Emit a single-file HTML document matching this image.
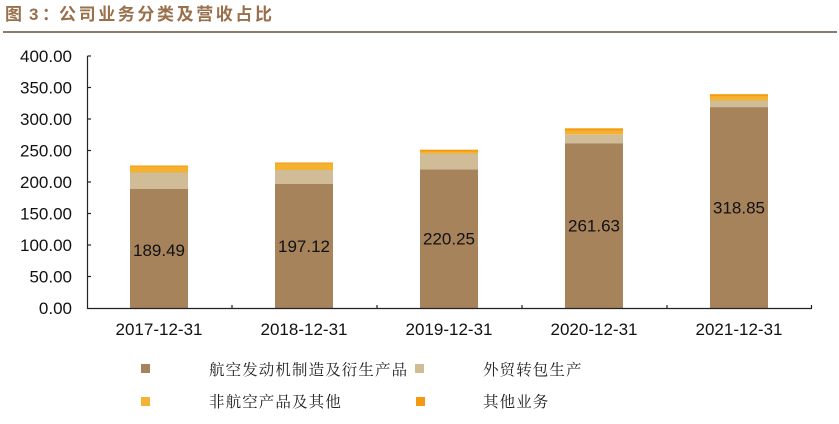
<!DOCTYPE html>
<html><head><meta charset="utf-8">
<style>
html,body{margin:0;padding:0;background:#fff;}
body{width:839px;height:424px;overflow:hidden;position:relative;}
svg{position:absolute;left:0;top:0;}
</style></head>
<body>
<svg width="839" height="424" viewBox="0 0 839 424" xmlns="http://www.w3.org/2000/svg">
  <!-- title -->
  <g font-family="'Liberation Sans','Noto Sans CJK SC',sans-serif" font-weight="bold" font-size="17" fill="#9A6F4B">
    <text x="5" y="20">图</text>
    <text x="29" y="20">3</text>
    <text x="42" y="20">：</text>
    <text x="59" y="20" letter-spacing="2.6">公司业务分类及营收占比</text>
  </g>
  <rect x="3" y="31" width="834" height="2" fill="#8E7A68"/>

  <!-- y axis labels -->
  <g font-family="'Liberation Sans',Arial,sans-serif" font-size="17" fill="#111" text-anchor="end">
    <text x="72" y="62">400.00</text>
    <text x="72" y="93.5">350.00</text>
    <text x="72" y="125">300.00</text>
    <text x="72" y="156.5">250.00</text>
    <text x="72" y="188">200.00</text>
    <text x="72" y="219.5">150.00</text>
    <text x="72" y="251">100.00</text>
    <text x="72" y="282.5">50.00</text>
    <text x="72" y="314">0.00</text>
  </g>

  <!-- bars -->
  <rect x="130" y="189" width="58" height="119" fill="#A7835C"/>
  <rect x="130" y="172.5" width="58" height="16.5" fill="#D0BD97"/>
  <rect x="130" y="166.5" width="58" height="6" fill="#F5B130"/>
  <rect x="130" y="165.5" width="58" height="1" fill="#F29B0F"/>

  <rect x="275" y="184" width="58" height="124" fill="#A7835C"/>
  <rect x="275" y="170" width="58" height="14" fill="#D0BD97"/>
  <rect x="275" y="163.5" width="58" height="6.5" fill="#F5B130"/>
  <rect x="275" y="162.5" width="58" height="1" fill="#F29B0F"/>

  <rect x="420" y="169.3" width="58" height="138.7" fill="#A7835C"/>
  <rect x="420" y="153.5" width="58" height="15.8" fill="#D0BD97"/>
  <rect x="420" y="151.5" width="58" height="2" fill="#F5B130"/>
  <rect x="420" y="149.7" width="58" height="1.8" fill="#F29B0F"/>

  <rect x="565" y="143.2" width="58" height="164.8" fill="#A7835C"/>
  <rect x="565" y="134.3" width="58" height="8.9" fill="#D0BD97"/>
  <rect x="565" y="130.5" width="58" height="3.8" fill="#F5B130"/>
  <rect x="565" y="128.3" width="58" height="2.2" fill="#F29B0F"/>

  <rect x="710" y="107.1" width="58" height="200.9" fill="#A7835C"/>
  <rect x="710" y="100.5" width="58" height="6.6" fill="#D0BD97"/>
  <rect x="710" y="96.7" width="58" height="3.8" fill="#F5B130"/>
  <rect x="710" y="94.2" width="58" height="2.5" fill="#F29B0F"/>

  <!-- axes -->
  <g stroke="#222" stroke-width="1.2" fill="none">
    <line x1="87.5" y1="56" x2="87.5" y2="308.5"/>
    <line x1="87" y1="308.5" x2="812" y2="308.5"/>
    <line x1="87.5" y1="56" x2="91" y2="56"/>
    <line x1="87.5" y1="87.5" x2="91" y2="87.5"/>
    <line x1="87.5" y1="119" x2="91" y2="119"/>
    <line x1="87.5" y1="150.5" x2="91" y2="150.5"/>
    <line x1="87.5" y1="182" x2="91" y2="182"/>
    <line x1="87.5" y1="213.5" x2="91" y2="213.5"/>
    <line x1="87.5" y1="245" x2="91" y2="245"/>
    <line x1="87.5" y1="276.5" x2="91" y2="276.5"/>
    <line x1="232" y1="308.5" x2="232" y2="305"/>
    <line x1="377" y1="308.5" x2="377" y2="305"/>
    <line x1="522" y1="308.5" x2="522" y2="305"/>
    <line x1="667" y1="308.5" x2="667" y2="305"/>
    <line x1="811.5" y1="308.5" x2="811.5" y2="305"/>
  </g>

  <!-- data labels -->
  <g font-family="'Liberation Sans',Arial,sans-serif" font-size="17" fill="#111" text-anchor="middle">
    <text x="159" y="256">189.49</text>
    <text x="304" y="252">197.12</text>
    <text x="449" y="244.5">220.25</text>
    <text x="594" y="231.5">261.63</text>
    <text x="739" y="213.5">318.85</text>
  </g>

  <!-- x labels -->
  <g font-family="'Liberation Sans',Arial,sans-serif" font-size="17" fill="#111" text-anchor="middle">
    <text x="159" y="335">2017-12-31</text>
    <text x="304" y="335">2018-12-31</text>
    <text x="449" y="335">2019-12-31</text>
    <text x="594" y="335">2020-12-31</text>
    <text x="739" y="335">2021-12-31</text>
  </g>

  <!-- legend -->
  <rect x="141" y="364" width="9" height="9" fill="#A7835C"/>
  <rect x="415" y="364" width="9" height="9" fill="#D0BD97"/>
  <rect x="141" y="397" width="9" height="9" fill="#F5B335"/>
  <rect x="416" y="397" width="9" height="9" fill="#F39A12"/>
  <g font-family="'Liberation Serif','Noto Serif CJK SC',serif" font-size="15.5" fill="#222" letter-spacing="1.1">
    <text x="209" y="375">航空发动机制造及衍生产品</text>
    <text x="483" y="375">外贸转包生产</text>
    <text x="209" y="407">非航空产品及其他</text>
    <text x="483" y="407">其他业务</text>
  </g>
</svg>
</body></html>
